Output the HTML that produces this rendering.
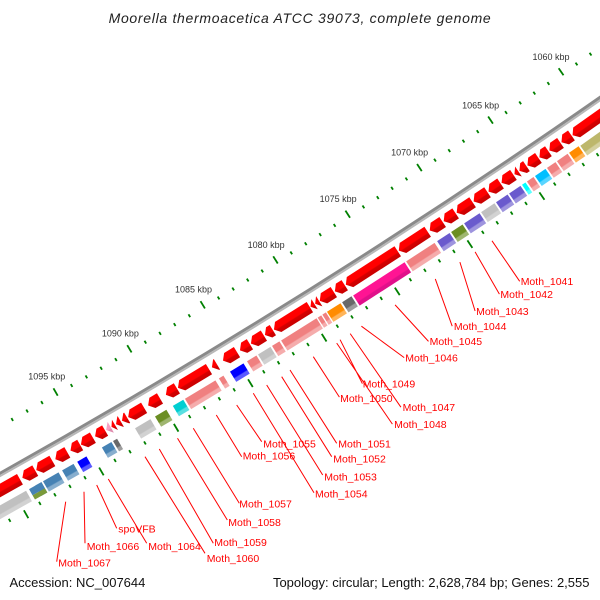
<!DOCTYPE html>
<html><head><meta charset="utf-8"><style>html,body{margin:0;padding:0;background:#fff;width:600px;height:600px;overflow:hidden}#w{width:600px;height:600px;overflow:hidden;position:relative}svg{display:block}</style></head>
<body><div id="w">
<svg xmlns="http://www.w3.org/2000/svg" xmlns:xlink="http://www.w3.org/1999/xlink" width="600" height="600" viewBox="0 0 600 600" overflow="hidden" font-family="'Liberation Sans', sans-serif">
<defs>
<clipPath id="frame"><rect width="600" height="600"/></clipPath>
<linearGradient id="R" gradientUnits="userSpaceOnUse" x1="7207" y1="0" x2="7219" y2="0"><stop offset="0" stop-color="#ff0000"/><stop offset=".55" stop-color="#ff0000"/><stop offset=".65" stop-color="#d40000"/><stop offset="1" stop-color="#c80000"/></linearGradient>
<linearGradient id="P" gradientUnits="userSpaceOnUse" x1="7207" y1="0" x2="7219" y2="0"><stop offset="0" stop-color="#f7a1c4"/><stop offset=".55" stop-color="#f7a1c4"/><stop offset=".65" stop-color="#e08cae"/><stop offset="1" stop-color="#e08cae"/></linearGradient>
<linearGradient id="cLC" gradientUnits="userSpaceOnUse" x1="7226" y1="0" x2="7238" y2="0"><stop offset="0" stop-color="#f08080"/><stop offset=".6" stop-color="#f08080"/><stop offset=".7" stop-color="#f5acac"/><stop offset="1" stop-color="#f5acac"/></linearGradient>
<linearGradient id="cDP" gradientUnits="userSpaceOnUse" x1="7226" y1="0" x2="7238" y2="0"><stop offset="0" stop-color="#ff1493"/><stop offset=".6" stop-color="#ff1493"/><stop offset=".7" stop-color="#e0108a"/><stop offset="1" stop-color="#e0108a"/></linearGradient>
<linearGradient id="cSI" gradientUnits="userSpaceOnUse" x1="7226" y1="0" x2="7238" y2="0"><stop offset="0" stop-color="#c0c0c0"/><stop offset=".6" stop-color="#c0c0c0"/><stop offset=".7" stop-color="#d2d2d2"/><stop offset="1" stop-color="#d2d2d2"/></linearGradient>
<linearGradient id="cBL" gradientUnits="userSpaceOnUse" x1="7226" y1="0" x2="7238" y2="0"><stop offset="0" stop-color="#0000ff"/><stop offset=".6" stop-color="#0000ff"/><stop offset=".7" stop-color="#5959ff"/><stop offset="1" stop-color="#5959ff"/></linearGradient>
<linearGradient id="cOL" gradientUnits="userSpaceOnUse" x1="7226" y1="0" x2="7238" y2="0"><stop offset="0" stop-color="#6b8e23"/><stop offset=".6" stop-color="#6b8e23"/><stop offset=".7" stop-color="#9fb670"/><stop offset="1" stop-color="#9fb670"/></linearGradient>
<linearGradient id="cDT" gradientUnits="userSpaceOnUse" x1="7226" y1="0" x2="7238" y2="0"><stop offset="0" stop-color="#00ced1"/><stop offset=".6" stop-color="#00ced1"/><stop offset=".7" stop-color="#59dfe1"/><stop offset="1" stop-color="#59dfe1"/></linearGradient>
<linearGradient id="cCY" gradientUnits="userSpaceOnUse" x1="7226" y1="0" x2="7238" y2="0"><stop offset="0" stop-color="#00ffff"/><stop offset=".6" stop-color="#00ffff"/><stop offset=".7" stop-color="#59ffff"/><stop offset="1" stop-color="#59ffff"/></linearGradient>
<linearGradient id="cDS" gradientUnits="userSpaceOnUse" x1="7226" y1="0" x2="7238" y2="0"><stop offset="0" stop-color="#00bfff"/><stop offset=".6" stop-color="#00bfff"/><stop offset=".7" stop-color="#59d5ff"/><stop offset="1" stop-color="#59d5ff"/></linearGradient>
<linearGradient id="cSB" gradientUnits="userSpaceOnUse" x1="7226" y1="0" x2="7238" y2="0"><stop offset="0" stop-color="#6a5acd"/><stop offset=".6" stop-color="#6a5acd"/><stop offset=".7" stop-color="#9e94de"/><stop offset="1" stop-color="#9e94de"/></linearGradient>
<linearGradient id="cOR" gradientUnits="userSpaceOnUse" x1="7226" y1="0" x2="7238" y2="0"><stop offset="0" stop-color="#ff8c00"/><stop offset=".6" stop-color="#ff8c00"/><stop offset=".7" stop-color="#ffb459"/><stop offset="1" stop-color="#ffb459"/></linearGradient>
<linearGradient id="cDG" gradientUnits="userSpaceOnUse" x1="7226" y1="0" x2="7238" y2="0"><stop offset="0" stop-color="#696969"/><stop offset=".6" stop-color="#696969"/><stop offset=".7" stop-color="#9d9d9d"/><stop offset="1" stop-color="#9d9d9d"/></linearGradient>
<linearGradient id="cST" gradientUnits="userSpaceOnUse" x1="7226" y1="0" x2="7238" y2="0"><stop offset="0" stop-color="#4682b4"/><stop offset=".6" stop-color="#4682b4"/><stop offset=".7" stop-color="#87aece"/><stop offset="1" stop-color="#87aece"/></linearGradient>
<linearGradient id="cKH" gradientUnits="userSpaceOnUse" x1="7226" y1="0" x2="7238" y2="0"><stop offset="0" stop-color="#bdb76b"/><stop offset=".6" stop-color="#bdb76b"/><stop offset=".7" stop-color="#d4d09f"/><stop offset="1" stop-color="#d4d09f"/></linearGradient>
<g id="n" stroke="#008000" stroke-width="1.8"><line x1="7155.5" y1="0" x2="7158.8" y2="0"/><line x1="7242" y1="0" x2="7245.5" y2="0"/></g>
<g id="M" stroke="#008000" stroke-width="1.8"><line x1="7150.5" y1="0" x2="7159" y2="0"/><line x1="7242" y1="0" x2="7251" y2="0"/></g>
</defs>
<rect width="600" height="600" fill="#fff"/>
<text x="300" y="23" text-anchor="middle" font-size="14" font-style="italic" letter-spacing="0.7" fill="#222">Moorella thermoacetica ATCC 39073, complete genome</text>

<g clip-path="url(#frame)">
<g transform="translate(-3517 -5807)">
<g transform="rotate(57.99)">
<!-- backbone arcs -->
<path d="M7180.47 -502.10A7198 7198 0 0 1 7180.47 502.10" fill="none" stroke="#8a8a8a" stroke-width="3"/>
<path d="M7182.96 -502.27A7200.5 7200.5 0 0 1 7182.96 502.27" fill="none" stroke="#b8b8b8" stroke-width="2"/>
<!-- ticks -->
<use xlink:href="#M" transform="rotate(-3.42375)"/>
<use xlink:href="#n" transform="rotate(-3.2868)"/>
<use xlink:href="#n" transform="rotate(-3.14985)"/>
<use xlink:href="#n" transform="rotate(-3.0129)"/>
<use xlink:href="#n" transform="rotate(-2.87595)"/>
<use xlink:href="#M" transform="rotate(-2.739)"/>
<use xlink:href="#n" transform="rotate(-2.60205)"/>
<use xlink:href="#n" transform="rotate(-2.4651)"/>
<use xlink:href="#n" transform="rotate(-2.32815)"/>
<use xlink:href="#n" transform="rotate(-2.1912)"/>
<use xlink:href="#M" transform="rotate(-2.05425)"/>
<use xlink:href="#n" transform="rotate(-1.9173)"/>
<use xlink:href="#n" transform="rotate(-1.78035)"/>
<use xlink:href="#n" transform="rotate(-1.6434)"/>
<use xlink:href="#n" transform="rotate(-1.50645)"/>
<use xlink:href="#M" transform="rotate(-1.3695)"/>
<use xlink:href="#n" transform="rotate(-1.23255)"/>
<use xlink:href="#n" transform="rotate(-1.0956)"/>
<use xlink:href="#n" transform="rotate(-0.95865)"/>
<use xlink:href="#n" transform="rotate(-0.8217)"/>
<use xlink:href="#M" transform="rotate(-0.68475)"/>
<use xlink:href="#n" transform="rotate(-0.5478)"/>
<use xlink:href="#n" transform="rotate(-0.41085)"/>
<use xlink:href="#n" transform="rotate(-0.2739)"/>
<use xlink:href="#n" transform="rotate(-0.13695)"/>
<use xlink:href="#M"/>
<use xlink:href="#n" transform="rotate(0.13695)"/>
<use xlink:href="#n" transform="rotate(0.2739)"/>
<use xlink:href="#n" transform="rotate(0.41085)"/>
<use xlink:href="#n" transform="rotate(0.5478)"/>
<use xlink:href="#M" transform="rotate(0.68475)"/>
<use xlink:href="#n" transform="rotate(0.8217)"/>
<use xlink:href="#n" transform="rotate(0.95865)"/>
<use xlink:href="#n" transform="rotate(1.0956)"/>
<use xlink:href="#n" transform="rotate(1.23255)"/>
<use xlink:href="#M" transform="rotate(1.3695)"/>
<use xlink:href="#n" transform="rotate(1.50645)"/>
<use xlink:href="#n" transform="rotate(1.6434)"/>
<use xlink:href="#n" transform="rotate(1.78035)"/>
<use xlink:href="#n" transform="rotate(1.9173)"/>
<use xlink:href="#M" transform="rotate(2.05425)"/>
<use xlink:href="#n" transform="rotate(2.1912)"/>
<use xlink:href="#n" transform="rotate(2.32815)"/>
<use xlink:href="#n" transform="rotate(2.4651)"/>
<use xlink:href="#n" transform="rotate(2.60205)"/>
<use xlink:href="#M" transform="rotate(2.739)"/>
<use xlink:href="#n" transform="rotate(2.87595)"/>
<use xlink:href="#n" transform="rotate(3.0129)"/>
<use xlink:href="#n" transform="rotate(3.14985)"/>

<!-- tick labels -->
<g font-size="9" fill="#333" text-anchor="middle">
<g transform="rotate(-2.739) translate(7137 0) rotate(-55.251)"><text y="3">1060 kbp</text></g>
<g transform="rotate(-2.05425) translate(7137 0) rotate(-55.93575)"><text y="3">1065 kbp</text></g>
<g transform="rotate(-1.3695) translate(7137 0) rotate(-56.6205)"><text y="3">1070 kbp</text></g>
<g transform="rotate(-0.68475) translate(7137 0) rotate(-57.30525)"><text y="3">1075 kbp</text></g>
<g transform="translate(7137 0) rotate(-57.99)"><text y="3">1080 kbp</text></g>
<g transform="rotate(0.68475) translate(7137 0) rotate(-58.67475)"><text y="3">1085 kbp</text></g>
<g transform="rotate(1.3695) translate(7137 0) rotate(-59.3595)"><text y="3">1090 kbp</text></g>
<g transform="rotate(2.05425) translate(7137 0) rotate(-60.04425)"><text y="3">1095 kbp</text></g>
</g>

<!-- genes -->
<g transform="rotate(-3.2183)"><path d="M7207 0V82.1L7213 87.1L7219 82.1V0Z" fill="url(#R)"/><rect x="7226" y="0.3" width="12" height="86.5" fill="url(#cKH)"/></g>
<g transform="rotate(-2.5185)"><path d="M7207 0V7.1L7213 12.1L7219 7.1V0Z" fill="url(#R)"/><rect x="7226" y="0.3" width="12" height="11.5" fill="url(#cOR)"/></g>
<g transform="rotate(-2.4131)"><path d="M7207 0V8.5L7213 13.5L7219 8.5V0Z" fill="url(#R)"/><rect x="7226" y="0.3" width="12" height="12.9" fill="url(#cLC)"/></g>
<g transform="rotate(-2.2967)"><path d="M7207 0V5.9L7213 10.9L7219 5.9V0Z" fill="url(#R)"/><rect x="7226" y="0.3" width="12" height="10.3" fill="url(#cLC)"/></g>
<g transform="rotate(-2.2008)"><path d="M7207 0V8.3L7213 13.3L7219 8.3V0Z" fill="url(#R)"/><rect x="7226" y="0.3" width="12" height="12.7" fill="url(#cDS)"/></g>
<g transform="rotate(-2.0857)"><path d="M7207 0V3.5L7213 8.5L7219 3.5V0Z" fill="url(#R)"/><rect x="7226" y="0.3" width="12" height="7.9" fill="url(#cLC)"/></g>
<g transform="rotate(-2.0091)"><path d="M7207 0L7213 4.8L7219 0Z" fill="url(#R)"/><rect x="7226" y="0.3" width="12" height="4.2" fill="url(#cCY)"/></g>
<g transform="rotate(-1.9611)"><path d="M7207 0V9.3L7213 14.3L7219 9.3V0Z" fill="url(#R)"/><rect x="7226" y="0.3" width="12" height="13.7" fill="url(#cSB)"/></g>
<g transform="rotate(-1.8379)"><path d="M7207 0V9.5L7213 14.5L7219 9.5V0Z" fill="url(#R)"/><rect x="7226" y="0.3" width="12" height="13.9" fill="url(#cSB)"/></g>
<g transform="rotate(-1.7132)"><path d="M7207 0V11.7L7213 16.7L7219 11.7V0Z" fill="url(#R)"/><rect x="7226" y="0.3" width="12" height="16.1" fill="url(#cSI)"/></g>
<g transform="rotate(-1.5708)"><path d="M7207 0V14.1L7213 19.1L7219 14.1V0Z" fill="url(#R)"/><rect x="7226" y="0.3" width="12" height="18.5" fill="url(#cSB)"/></g>
<g transform="rotate(-1.4092)"><path d="M7207 0V9.3L7213 14.3L7219 9.3V0Z" fill="url(#R)"/><rect x="7226" y="0.3" width="12" height="13.7" fill="url(#cOL)"/></g>
<g transform="rotate(-1.2860)"><path d="M7207 0V10.5L7213 15.5L7219 10.5V0Z" fill="url(#R)"/><rect x="7226" y="0.3" width="12" height="14.9" fill="url(#cSB)"/></g>
<g transform="rotate(-1.1435)"><path d="M7207 0V29.5L7213 34.5L7219 29.5V0Z" fill="url(#R)"/><rect x="7226" y="0.3" width="12" height="33.9" fill="url(#cLC)"/></g>
<g transform="rotate(-0.8600)"><path d="M7207 0V56.8L7213 61.8L7219 56.8V0Z" fill="url(#R)"/><rect x="7226" y="0.3" width="12" height="61.2" fill="url(#cDP)"/></g>
<g transform="rotate(-0.3602)"><path d="M7207 0V6.7L7213 11.7L7219 6.7V0Z" fill="url(#R)"/><rect x="7226" y="0.3" width="12" height="11.1" fill="url(#cDG)"/></g>
<g transform="rotate(-0.2575)"><path d="M7207 0V11.6L7213 16.6L7219 11.6V0Z" fill="url(#R)"/><rect x="7226" y="0.3" width="12" height="16.0" fill="url(#cOR)"/></g>
<g transform="rotate(-0.1205)"><path d="M7207 0L7213 4.8L7219 0Z" fill="url(#R)"/><rect x="7226" y="0.3" width="12" height="4.2" fill="url(#cLC)"/></g>
<g transform="rotate(-0.0767)"><path d="M7207 0L7213 4.8L7219 0Z" fill="url(#R)"/><rect x="7226" y="0.3" width="12" height="4.2" fill="url(#cLC)"/></g>
<g transform="rotate(-0.0329)"><path d="M7207 0V37.4L7213 42.4L7219 37.4V0Z" fill="url(#R)"/><rect x="7226" y="0.3" width="12" height="41.8" fill="url(#cLC)"/></g>
<g transform="rotate(0.3136)"><path d="M7207 0V4.3L7213 9.3L7219 4.3V0Z" fill="url(#R)"/><rect x="7226" y="0.3" width="12" height="8.7" fill="url(#cLC)"/></g>
<g transform="rotate(0.3972)"><path d="M7207 0V10.2L7213 15.2L7219 10.2V0Z" fill="url(#R)"/><rect x="7226" y="0.3" width="12" height="14.6" fill="url(#cSI)"/></g>
<g transform="rotate(0.5273)"><path d="M7207 0V6.7L7213 11.7L7219 6.7V0Z" fill="url(#R)"/><rect x="7226" y="0.3" width="12" height="11.1" fill="url(#cLC)"/></g>
<g transform="rotate(0.6478)"><path d="M7207 0V11.4L7213 16.4L7219 11.4V0Z" fill="url(#R)"/><rect x="7226" y="0.3" width="12" height="15.8" fill="url(#cBL)"/></g>
<g transform="rotate(0.8340)"><path d="M7207 0V0.9L7213 5.9L7219 0.9V0Z" fill="url(#R)"/><rect x="7226" y="0.3" width="12" height="5.3" fill="url(#cLC)"/></g>
<g transform="rotate(0.9080)"><path d="M7207 0V31.2L7213 36.2L7219 31.2V0Z" fill="url(#R)"/><rect x="7226" y="0.3" width="12" height="35.6" fill="url(#cLC)"/></g>
<g transform="rotate(1.2052)"><path d="M7207 0V7.8L7213 12.8L7219 7.8V0Z" fill="url(#R)"/><rect x="7226" y="0.3" width="12" height="12.2" fill="url(#cDT)"/></g>
<g transform="rotate(1.3613)"><path d="M7207 0V8.8L7213 13.8L7219 8.8V0Z" fill="url(#R)"/><rect x="7226" y="0.3" width="12" height="13.2" fill="url(#cOL)"/></g>
<g transform="rotate(1.5078)"><path d="M7207 0V13.5L7213 18.5L7219 13.5V0Z" fill="url(#R)"/><rect x="7226" y="0.3" width="12" height="17.9" fill="url(#cSI)"/></g>
<g transform="rotate(1.6639)"><path d="M7207 0V1.0L7213 6.0L7219 1.0V0Z" fill="url(#R)"/></g>
<g transform="rotate(1.7228)"><path d="M7207 0V0.5L7213 5.5L7219 0.5V0Z" fill="url(#R)"/></g>
<g transform="rotate(1.7762)"><path d="M7207 0L7213 4.0L7219 0Z" fill="url(#R)"/></g>
<g transform="rotate(1.8146)"><path d="M7207 0V0.3L7213 5.3L7219 0.3V0Z" fill="url(#P)"/><rect x="7226" y="0.3" width="12" height="4.7" fill="url(#cDG)"/></g>
<g transform="rotate(1.8666)"><path d="M7207 0V6.6L7213 11.6L7219 6.6V0Z" fill="url(#R)"/><rect x="7226" y="0.3" width="12" height="11.0" fill="url(#cST)"/></g>
<g transform="rotate(1.9789)"><path d="M7207 0V8.8L7213 13.8L7219 8.8V0Z" fill="url(#R)"/></g>
<g transform="rotate(2.0953)"><path d="M7207 0V6.2L7213 11.2L7219 6.2V0Z" fill="url(#R)"/><rect x="7226" y="0.3" width="12" height="10.6" fill="url(#cBL)"/></g>
<g transform="rotate(2.2131)"><path d="M7207 0V8.8L7213 13.8L7219 8.8V0Z" fill="url(#R)"/><rect x="7226" y="0.3" width="12" height="13.2" fill="url(#cST)"/></g>
<g transform="rotate(2.3501)"><path d="M7207 0V13.5L7213 18.5L7219 13.5V0Z" fill="url(#R)"/><rect x="7226" y="0.3" width="12" height="17.9" fill="url(#cST)"/></g>
<g transform="rotate(2.5062)"><path d="M7207 0V9.8L7213 14.8L7219 9.8V0Z" fill="url(#R)"/><rect x="7226" y="0.3" width="12" height="7" fill="#4682b4"/><rect x="7233" y="0.3" width="5" height="14.2" fill="#7a9a3a"/><rect x="7226" y="0.3" width="7" height="14.2" fill="#4682b4"/></g>
<g transform="rotate(2.6459)"><path d="M7207 0V49.9L7213 54.9L7219 49.9V0Z" fill="url(#R)"/><rect x="7226" y="0.3" width="12" height="54.3" fill="url(#cSI)"/></g>
</g>
</g>
</g>

<!-- label lines -->
<path fill="none" stroke="#ff0000" stroke-width="1" d="M492 240.8L519.7 281.3M475.1 251.9L499.4 294.1M459.9 262.1L475.1 311M435.3 278.9L452.2 326.2M395.1 304.9L428.5 341.4M361.4 326.2L404.2 357.6M340.1 339.7L362.4 383.6M350.2 333.6L400.9 407.2M313.3 356.7L339.4 397.1M336.7 343.1L392.4 424.1M290 370L336.7 443.3M281.7 376.7L331.7 456.7M266.7 385L322.7 475M253.3 393.3L314 492.7M236.7 405L261.7 441.7M216.3 415L241.7 456.7M193.3 428.3L239.3 503.3M177.5 438.3L227.3 520M159.3 449L213.3 543.3M145 456.7L205 553.3M108.3 479L146.7 543.3M96.7 485L116.7 528.3M84 491.7L85 543.3M65.7 501.7L56.7 561.7"/>

<g font-size="10.5" fill="#ff0000">
<text x="520.7" y="285">Moth_1041</text>
<text x="500.4" y="298.2">Moth_1042</text>
<text x="476.1" y="315">Moth_1043</text>
<text x="453.9" y="329.9">Moth_1044</text>
<text x="429.6" y="345.1">Moth_1045</text>
<text x="405.3" y="361.3">Moth_1046</text>
<text x="362.7" y="387.6">Moth_1049</text>
<text x="340.1" y="401.8">Moth_1050</text>
<text x="402.6" y="410.9">Moth_1047</text>
<text x="394.1" y="428.1">Moth_1048</text>
<text x="338.3" y="447.7">Moth_1051</text>
<text x="333.3" y="462.7">Moth_1052</text>
<text x="263.3" y="447.7">Moth_1055</text>
<text x="242.7" y="459.3">Moth_1056</text>
<text x="324.3" y="480.3">Moth_1053</text>
<text x="315" y="497.7">Moth_1054</text>
<text x="239.3" y="507.7">Moth_1057</text>
<text x="228.3" y="526">Moth_1058</text>
<text x="214.3" y="546">Moth_1059</text>
<text x="206.7" y="562">Moth_1060</text>
<text x="118.3" y="532.7">spoVFB</text>
<text x="148.3" y="550">Moth_1064</text>
<text x="86.7" y="550">Moth_1066</text>
<text x="58.3" y="566.7">Moth_1067</text>
</g>

<text x="9.5" y="587" font-size="13" fill="#111">Accession: NC_007644</text>
<text x="589.5" y="587" font-size="13" fill="#111" text-anchor="end">Topology: circular; Length: 2,628,784 bp; Genes: 2,555</text>
</svg>
</div></body></html>
